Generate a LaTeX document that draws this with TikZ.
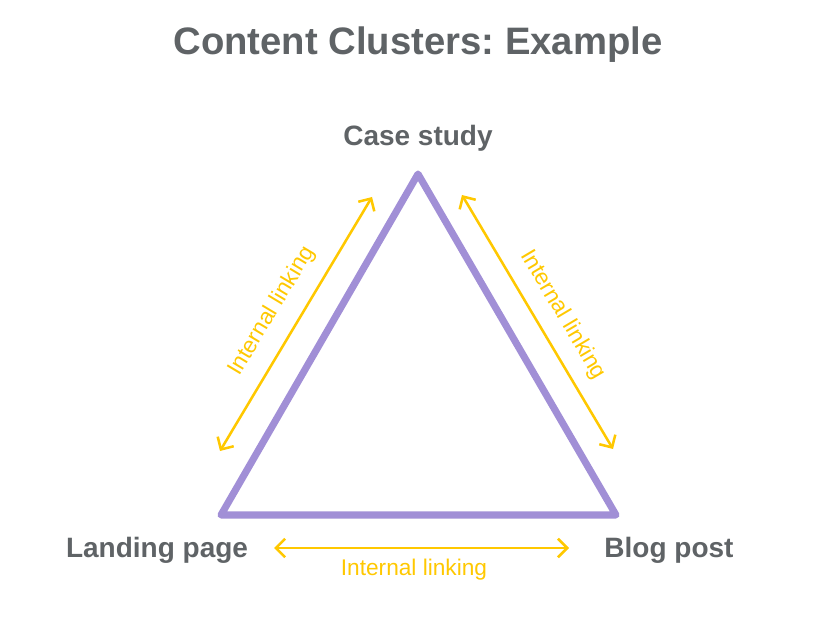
\documentclass[tikz,border=0pt]{standalone}
\usepackage{fontspec}
\setmainfont{Liberation Sans}
\frenchspacing
\usetikzlibrary{arrows.meta}
\definecolor{tri}{HTML}{A18FD6}
\definecolor{gold}{HTML}{FFC800}
\definecolor{txt}{HTML}{5F6366}
\tikzset{
  side/.style={draw=tri, line width=5.3pt, line join=round, line cap=round},
  link/.style={draw=gold, line width=1.9pt, {Straight Barb[length=7pt,width=14pt,line width=1.9pt]}-{Straight Barb[length=7pt,width=14pt,line width=1.9pt]}},
  lbl/.style={text=gold, font=\fontsize{17}{19}\selectfont, inner sep=0pt},
  vert/.style={text=txt, font=\bfseries\fontsize{21}{24}\selectfont, inner sep=0pt},
  ttl/.style={text=txt, font=\bfseries\fontsize{28.7}{32}\selectfont, inner sep=0pt}
}
\begin{document}
\begin{tikzpicture}[x=0.75pt,y=-0.75pt]
\useasboundingbox (0,0) rectangle (836,638);
\node[ttl] (title) at (418,45) {Content Clusters: Example};
\coordinate (A) at (418,174);
\coordinate (L) at (221,515);
\coordinate (R) at (616,515);
\draw[side] (A) -- (L) -- (R) -- cycle;
\node[vert] (cs) at (418,138) {Case study};
\node[vert] (lp) at (157,550) {Landing page};
\node[vert] (bp) at (669,550) {Blog post};
\coordinate (l1) at (220,451);
\coordinate (l2) at (372,197);
\coordinate (r1) at (462,195);
\coordinate (r2) at (613,449);
\coordinate (b1) at (274,548);
\coordinate (b2) at (569,548);
\draw[link] (l1) -- (l2);
\draw[link] (r1) -- (r2);
\draw[link] (b1) -- (b2);
\node[lbl, rotate=59.1] (ll) at (272,311) {Internal linking};
\node[lbl, rotate=-59.3] (rl) at (563,315) {Internal linking};
\node[lbl] (bl) at (414,570) {Internal linking};
\end{tikzpicture}
\end{document}
